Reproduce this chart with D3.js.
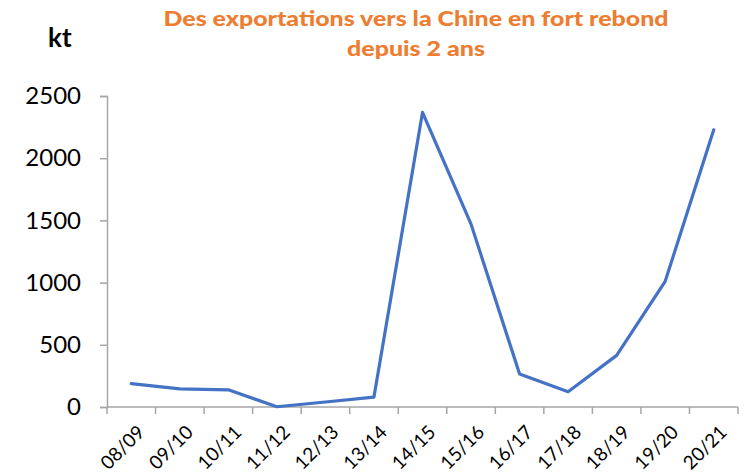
<!DOCTYPE html>
<html>
<head>
<meta charset="utf-8">
<script src="https://cdn.jsdelivr.net/npm/d3@7"></script>
<style>
  body { margin: 0; background: #fff; }
  text { font-family: Lato, "Open Sans", sans-serif; }
</style>
</head>
<body>
<div id="chart"></div>
<script>
const seasons = ["08/09", "09/10", "10/11", "11/12", "12/13", "13/14", "14/15",
                 "15/16", "16/17", "17/18", "18/19", "19/20", "20/21"];
const exportsKt = [188, 145, 138, 2, 40, 80, 2368, 1470, 265, 122, 415, 1010, 2228];
const yTicks = [0, 500, 1000, 1500, 2000, 2500];
const titleLines = ["Des exportations vers la Chine en fort rebond", "depuis 2 ans"];

const width = 746, height = 475;
const plotLeft = 107, plotRight = 738, plotTop = 96, plotBottom = 407;

const svg = d3.select("#chart").append("svg")
    .attr("width", width)
    .attr("height", height);

const x = d3.scaleBand().domain(seasons).range([plotLeft, plotRight]);
const y = d3.scaleLinear().domain([0, 2500]).range([plotBottom, plotTop]);

const axisColor = "#a6a6a6";

// y axis
const yAxis = svg.append("g")
    .attr("transform", "translate(" + plotLeft + ",0)")
    .call(d3.axisLeft(y).tickValues(yTicks).tickSize(7).tickPadding(19).tickFormat(d3.format("d")));
yAxis.select(".domain").attr("stroke", axisColor).attr("stroke-width", 1.5);
yAxis.selectAll(".tick line").attr("stroke", axisColor).attr("stroke-width", 1.5);
yAxis.selectAll(".tick text")
    .style("font-size", "24px")
    .attr("fill", "#000");

// x axis, ticks sit on the band edges
const xAxis = svg.append("g")
    .attr("transform", "translate(0," + plotBottom + ")");
xAxis.append("line")
    .attr("x1", plotLeft).attr("x2", plotRight)
    .attr("stroke", axisColor).attr("stroke-width", 1.5);
const edges = seasons.map(d => x(d)).concat([plotRight]);
xAxis.selectAll(".edge").data(edges).enter().append("line")
    .attr("class", "edge")
    .attr("x1", d => d).attr("x2", d => d)
    .attr("y1", 0).attr("y2", 7)
    .attr("stroke", axisColor).attr("stroke-width", 1.5);
xAxis.selectAll(".lbl").data(seasons).enter().append("text")
    .attr("class", "lbl")
    .attr("transform", d => "translate(" + (x(d) + x.bandwidth() / 2 + 5) + ",17)rotate(-45)")
    .attr("text-anchor", "end")
    .attr("dy", "0.7em")
    .style("font-size", "19px")
    .attr("fill", "#000")
    .text(d => d);

// line
const line = d3.line()
    .x((d, i) => x(seasons[i]) + x.bandwidth() / 2)
    .y(d => y(d));
svg.append("path")
    .datum(exportsKt)
    .attr("d", line)
    .attr("fill", "none")
    .attr("stroke", "#4472C4")
    .attr("stroke-width", 3.2)
    .attr("stroke-linejoin", "round")
    .attr("stroke-linecap", "round");

// title
const titleWidths = [505, 138];
svg.selectAll(".title").data(titleLines).enter().append("text")
    .attr("class", "title")
    .attr("x", 416)
    .attr("y", (d, i) => 26 + i * 30)
    .attr("text-anchor", "middle")
    .attr("textLength", (d, i) => titleWidths[i])
    .attr("lengthAdjust", "spacingAndGlyphs")
    .style("font-size", "21px")
    .style("font-weight", "900")
    .attr("fill", "#ED7D31")
    .text(d => d);

// unit
svg.append("text")
    .attr("x", 48).attr("y", 47)
    .style("font-size", "26px")
    .style("font-weight", "bold")
    .attr("fill", "#000")
    .text("kt");
</script>
</body>
</html>
